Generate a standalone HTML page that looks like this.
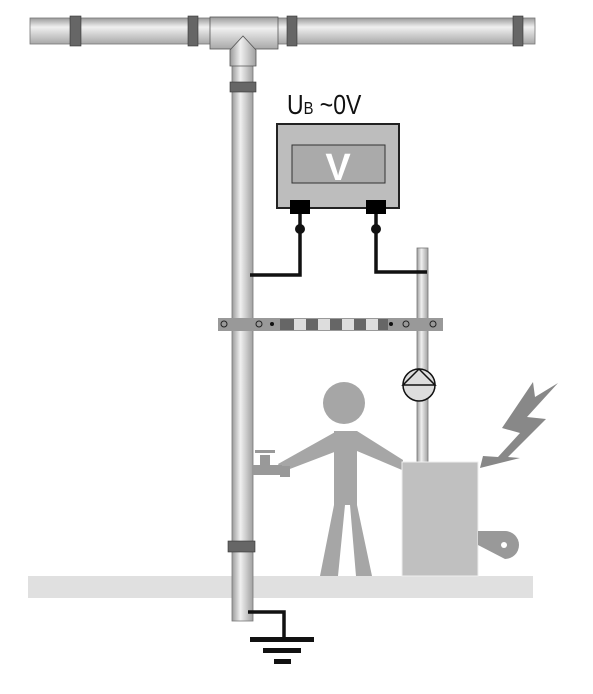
<!DOCTYPE html>
<html><head><meta charset="utf-8"><style>body{margin:0;background:#fff}svg{display:block}</style></head><body>
<svg width="593" height="694" viewBox="0 0 593 694" xmlns="http://www.w3.org/2000/svg">
<defs>
<linearGradient id="hp" x1="0" y1="0" x2="0" y2="1"><stop offset="0" stop-color="#9a9a9a"/><stop offset="0.35" stop-color="#f0f0f0"/><stop offset="1" stop-color="#a8a8a8"/></linearGradient>
<linearGradient id="vp" x1="0" y1="0" x2="1" y2="0"><stop offset="0" stop-color="#9a9a9a"/><stop offset="0.4" stop-color="#f0f0f0"/><stop offset="1" stop-color="#a0a0a0"/></linearGradient>
</defs>
<g><rect x="28" y="576" width="505" height="22" fill="#e0e0e0"/></g>
<g>
<rect x="30" y="18" width="505" height="26" fill="url(#hp)" stroke="#777" stroke-width="0.8"/>
<rect x="70" y="16" width="11" height="30" fill="#666" stroke="#333" stroke-width="0.6"/>
<rect x="188" y="16" width="10" height="30" fill="#666" stroke="#333" stroke-width="0.6"/>
<rect x="287" y="16" width="10" height="30" fill="#666" stroke="#333" stroke-width="0.6"/>
<rect x="513" y="16" width="10" height="30" fill="#666" stroke="#333" stroke-width="0.6"/>
<rect x="210" y="17" width="68" height="32" fill="url(#hp)" stroke="#555" stroke-width="0.8"/>
</g>
<g>
<rect x="232" y="50" width="21" height="571" fill="url(#vp)" stroke="#777" stroke-width="0.8"/>
<path d="M230,50 L243,36 L256,50 L256,66 L230,66 Z" fill="url(#vp)" stroke="#555" stroke-width="0.8"/>
<rect x="230" y="82" width="26" height="10" fill="#666" stroke="#333" stroke-width="0.6"/>
<rect x="228" y="541" width="27" height="11" fill="#666" stroke="#333" stroke-width="0.6"/>
</g>
<g><rect x="417" y="248" width="11" height="215" fill="url(#vp)" stroke="#777" stroke-width="0.8"/></g>
<g>
<rect x="218" y="318" width="225" height="13" fill="#999"/>
<rect x="280" y="319" width="14" height="11" fill="#666"/><rect x="294" y="319" width="12" height="11" fill="#ddd"/><rect x="306" y="319" width="12" height="11" fill="#666"/>
<rect x="318" y="319" width="12" height="11" fill="#ddd"/><rect x="330" y="319" width="12" height="11" fill="#666"/>
<rect x="342" y="319" width="12" height="11" fill="#ddd"/><rect x="354" y="319" width="12" height="11" fill="#666"/>
<rect x="366" y="319" width="12" height="11" fill="#ddd"/><rect x="378" y="319" width="10" height="11" fill="#666"/>
<circle cx="224" cy="324" r="3" fill="none" stroke="#222"/><circle cx="259" cy="324" r="3" fill="none" stroke="#222"/><circle cx="272" cy="324" r="2" fill="#111"/>
<circle cx="391" cy="324" r="2" fill="#111"/><circle cx="406" cy="324" r="3" fill="none" stroke="#222"/><circle cx="433" cy="324" r="3" fill="none" stroke="#222"/>
</g>
<g>
<rect x="277" y="124" width="122" height="84" fill="#bdbdbd" stroke="#222" stroke-width="2"/>
<rect x="292" y="145" width="93" height="38" fill="#aaa" stroke="#333" stroke-width="1"/>
<text x="338" y="180" text-anchor="middle" font-family="Liberation Sans, sans-serif" font-weight="bold" font-size="38" fill="#fff">V</text>
<rect x="290" y="200" width="20" height="14" fill="#000"/><rect x="366" y="200" width="20" height="14" fill="#000"/>
</g>
<text x="0" y="0" transform="translate(287,114) scale(0.82,1)" font-family="Liberation Sans, sans-serif" font-size="28" fill="#111">U<tspan font-size="18">B</tspan>  ~0V</text>
<g fill="none" stroke="#111" stroke-width="3.5">
<path d="M300,214 V275 H250"/><path d="M376,214 V272 H427"/>
<path d="M248,612 H284 V640"/>
</g>
<circle cx="300" cy="229" r="5" fill="#111"/><circle cx="376" cy="229" r="5" fill="#111"/>
<g fill="#111">
<rect x="250" y="637" width="64" height="5"/><rect x="263" y="648" width="38" height="5"/><rect x="274" y="659" width="17" height="5"/>
</g>
<g><circle cx="419" cy="385" r="16" fill="#ddd" stroke="#111" stroke-width="1.5"/><path d="M403,385 H435 L419,369 Z" fill="none" stroke="#111" stroke-width="1.5"/></g>
<g fill="#a6a6a6">
<circle cx="344" cy="403" r="21"/>
<path d="M334,431 L334,505 L320,576 L338,576 L345,505 L350,505 L356,576 L372,576 L357,505 L357,451 L402,470 L403,460 L357,431 Z"/>
<path d="M337,431 L278,464 L282,472 L337,451 Z"/>
</g>
<g fill="#999"><rect x="252" y="465" width="30" height="10"/><rect x="260" y="455" width="10" height="10"/><rect x="255" y="450" width="20" height="3"/><rect x="280" y="466" width="10" height="11"/></g>
<g>
<rect x="402" y="462" width="76" height="114" fill="#c0c0c0" stroke="#eee"/>
<path d="M478,531 H505 A14,14 0 1 1 505,559 L478,545 Z" fill="#999"/><circle cx="504" cy="545" r="3" fill="#fff"/>
<path d="M533,382 L535,397 L558,383 L527,417 L546,419 L508,457 L520,458 L480,468 L483,456 L498,457 L520,433 L502,428 Z" fill="#888"/>
</g>
</svg>
</body></html>
